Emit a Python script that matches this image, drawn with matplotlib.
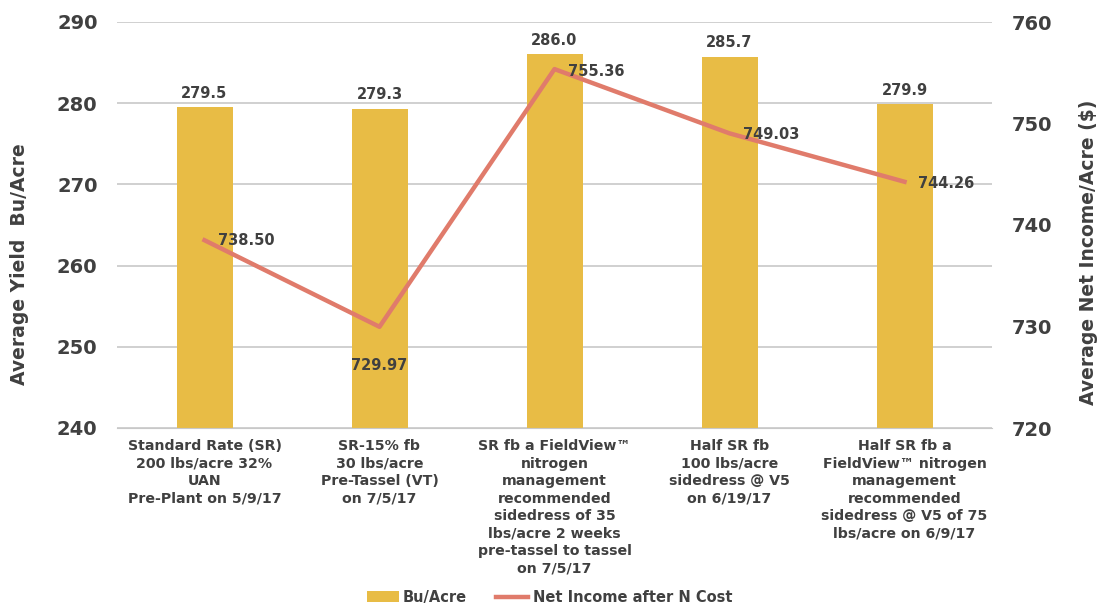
import matplotlib.pyplot as plt
import numpy as np

categories = [
    "Standard Rate (SR)\n200 lbs/acre 32%\nUAN\nPre-Plant on 5/9/17",
    "SR-15% fb\n30 lbs/acre\nPre-Tassel (VT)\non 7/5/17",
    "SR fb a FieldView\u2122\nnitrogen\nmanagement\nrecommended\nsidedress of 35\nlbs/acre 2 weeks\npre-tassel to tassel\non 7/5/17",
    "Half SR fb\n100 lbs/acre\nsidedress @ V5\non 6/19/17",
    "Half SR fb a\nFieldView\u2122 nitrogen\nmanagement\nrecommended\nsidedress @ V5 of 75\nlbs/acre on 6/9/17",
]
yield_bu = [279.5, 279.3, 286.0, 285.7, 279.9]
net_income = [738.50, 729.97, 755.36, 749.03, 744.26]

txt = "#404040"
bar_color = "#E8BC45"
line_color = "#E07B6B"

plt.rcParams["font.family"] = "DejaVu Sans"
plt.rcParams["font.weight"] = "bold"

fig = plt.figure(figsize=(10.99, 6.11), dpi=100)
ax = fig.add_axes([117 / 1099, 1 - 428 / 611, 875 / 1099, 406 / 611])
ax2 = ax.twinx()

x = np.arange(len(categories))
bars = ax.bar(x, yield_bu, width=0.32, color=bar_color, zorder=2, label="Bu/Acre")
ax.set_ylim(240, 290)
ax.set_xlim(-0.5, 4.5)
ax.set_yticks(range(240, 291, 10))
ax.grid(axis="y", color="#C8C8C8", linewidth=1.2, zorder=0)
ax.set_axisbelow(True)
for b, v in zip(bars, yield_bu):
    ax.text(b.get_x() + b.get_width() / 2, v + 0.8, f"{v:.1f}", ha="center", va="bottom",
            fontsize=10.5, color=txt, fontweight="bold")

ln, = ax2.plot(x, net_income, color=line_color, linewidth=3.2, zorder=3,
               label="Net Income after N Cost")
ax2.set_ylim(720, 760)
ax2.set_yticks(range(720, 761, 10))

offsets = [(10, 0, "left", "center"), (0, -28, "center", "center"),
           (10, -2, "left", "center"), (10, -1, "left", "center"), (10, -1, "left", "center")]
for xi, v, (dx, dy, ha, va) in zip(x, net_income, offsets):
    ax2.annotate(f"{v:.2f}", (xi, v), xytext=(dx, dy), textcoords="offset points",
                 ha=ha, va=va, fontsize=10.5, color=txt, fontweight="bold")

for a in (ax, ax2):
    for s in a.spines.values():
        s.set_visible(False)
    a.tick_params(length=0, labelsize=14, labelcolor=txt, pad=14)

ax.set_xticks(x)
ax.set_xticklabels(categories, fontsize=10.2, color=txt, fontweight="bold", linespacing=1.32)
ax.tick_params(axis="x", pad=8)
ax.spines["bottom"].set_visible(True)
ax.spines["bottom"].set_color("#C8C8C8")

ax.set_ylabel("Average Yield  Bu/Acre", fontsize=13.5, color=txt, fontweight="bold")
ax2.set_ylabel("Average Net Income/Acre ($)", fontsize=13.5, color=txt, fontweight="bold")
ax.yaxis.set_label_coords(-0.101, 0.404)
ax2.yaxis.set_label_coords(1.099, 0.433)

fig.legend([bars, ln], ["Bu/Acre", "Net Income after N Cost"], loc="lower center",
           bbox_to_anchor=(0.5, -0.004), ncol=2, frameon=False, fontsize=10.5,
           labelcolor=txt, handlelength=2.2, handletextpad=0.3, columnspacing=2.0,
           borderpad=0.1)

fig.savefig("out.png", dpi=100)
